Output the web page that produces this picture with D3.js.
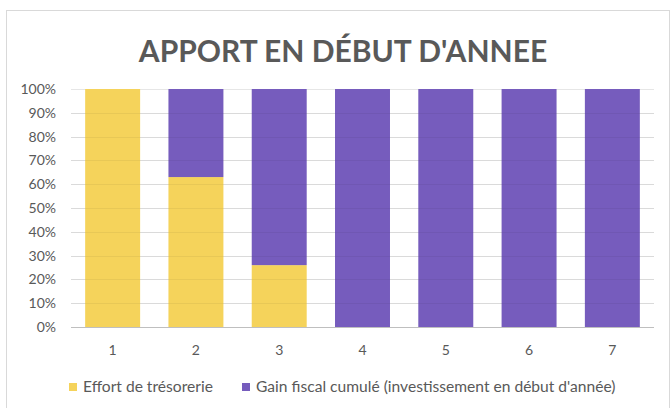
<!DOCTYPE html>
<html>
<head>
<meta charset="utf-8">
<script src="https://cdn.jsdelivr.net/npm/d3@7"></script>
<style>
  body { margin: 0; background: #fff; }
  text { font-family: Lato, "Open Sans", sans-serif; }
</style>
</head>
<body>
<script>
// chart data
var categories = ["1", "2", "3", "4", "5", "6", "7"];
var effortTresorerie = [100, 63, 26, 0, 0, 0, 0];
var gainFiscal = [0, 37, 74, 100, 100, 100, 100];
var yTicks = [0, 10, 20, 30, 40, 50, 60, 70, 80, 90, 100];
var seriesNames = ["Effort de trésorerie", "Gain fiscal cumulé (investissement en début d'année)"];
var seriesColors = ["#F5D35B", "#765CBD"];

var W = 671, H = 408;
var svg = d3.select("body").append("svg")
    .attr("width", W)
    .attr("height", H);

// chart frame
svg.append("rect")
    .attr("x", 6.5).attr("y", 10.5)
    .attr("width", 663).attr("height", 420)
    .attr("fill", "#fff")
    .attr("stroke", "#d9d9d9");

var plotLeft = 71, plotRight = 654, plotTop = 89, plotBottom = 327;

var x = d3.scaleBand()
    .domain(categories)
    .range([plotLeft, plotRight])
    .paddingInner(0.34)
    .paddingOuter(0.17);

var y = d3.scaleLinear()
    .domain([0, 100])
    .range([plotBottom, plotTop]);

// stack the two series
var rows = categories.map(function(c, i) {
  return { cat: c, effort: effortTresorerie[i], gain: gainFiscal[i] };
});
var stack = d3.stack().keys(["effort", "gain"]);
var layers = stack(rows);

// gridlines
svg.append("g")
  .selectAll("line")
  .data(yTicks.slice(1))
  .enter().append("line")
    .attr("x1", plotLeft).attr("x2", plotRight)
    .attr("y1", function(d) { return Math.round(y(d)) + 0.5; })
    .attr("y2", function(d) { return Math.round(y(d)) + 0.5; })
    .attr("stroke", "#e6e6e6");

// bars
svg.append("g")
  .selectAll("g")
  .data(layers)
  .enter().append("g")
    .attr("fill", function(d, i) { return seriesColors[i]; })
  .selectAll("rect")
  .data(function(d) { return d; })
  .enter().append("rect")
    .attr("x", function(d) { return x(d.data.cat); })
    .attr("width", x.bandwidth())
    .attr("y", function(d) { return y(d[1]); })
    .attr("height", function(d) { return y(d[0]) - y(d[1]); });

// faint gridlines showing through the bars
svg.append("g")
  .selectAll("line")
  .data(yTicks.slice(1, -1))
  .enter().append("line")
    .attr("x1", plotLeft).attr("x2", plotRight)
    .attr("y1", function(d) { return Math.round(y(d)) + 0.5; })
    .attr("y2", function(d) { return Math.round(y(d)) + 0.5; })
    .attr("stroke", "#000")
    .attr("stroke-opacity", 0.05);

// x axis line
svg.append("line")
    .attr("x1", plotLeft).attr("x2", plotRight)
    .attr("y1", plotBottom + 0.5).attr("y2", plotBottom + 0.5)
    .attr("stroke", "#bfbfbf");

// y tick labels
svg.append("g")
  .selectAll("text")
  .data(yTicks)
  .enter().append("text")
    .attr("x", 56)
    .attr("y", function(d) { return y(d); })
    .attr("dy", "0.35em")
    .attr("text-anchor", "end")
    .attr("font-size", 14)
    .attr("fill", "#595959")
    .text(function(d) { return d + "%"; });

// x tick labels
svg.append("g")
  .selectAll("text")
  .data(categories)
  .enter().append("text")
    .attr("x", function(d) { return x(d) + x.bandwidth() / 2; })
    .attr("y", 350)
    .attr("dy", "0.35em")
    .attr("text-anchor", "middle")
    .attr("font-size", 14)
    .attr("fill", "#595959")
    .text(function(d) { return d; });

// title
svg.append("text")
    .attr("x", 343)
    .attr("y", 62)
    .attr("text-anchor", "middle")
    .attr("font-size", 30)
    .attr("font-weight", "bold")
    .attr("fill", "#595959")
    .text("APPORT EN DÉBUT D'ANNEE");

// legend
var legendX = [69, 242];
var legend = svg.append("g")
  .selectAll("g")
  .data(seriesNames)
  .enter().append("g")
    .attr("transform", function(d, i) { return "translate(" + legendX[i] + ",387)"; });

legend.append("rect")
    .attr("x", 0).attr("y", -4)
    .attr("width", 8).attr("height", 8)
    .attr("fill", function(d, i) { return seriesColors[i]; });

legend.append("text")
    .attr("x", 14)
    .attr("y", 0)
    .attr("dy", "0.35em")
    .attr("font-size", 15.6)
    .attr("fill", "#595959")
    .text(function(d) { return d; });
</script>
</body>
</html>
